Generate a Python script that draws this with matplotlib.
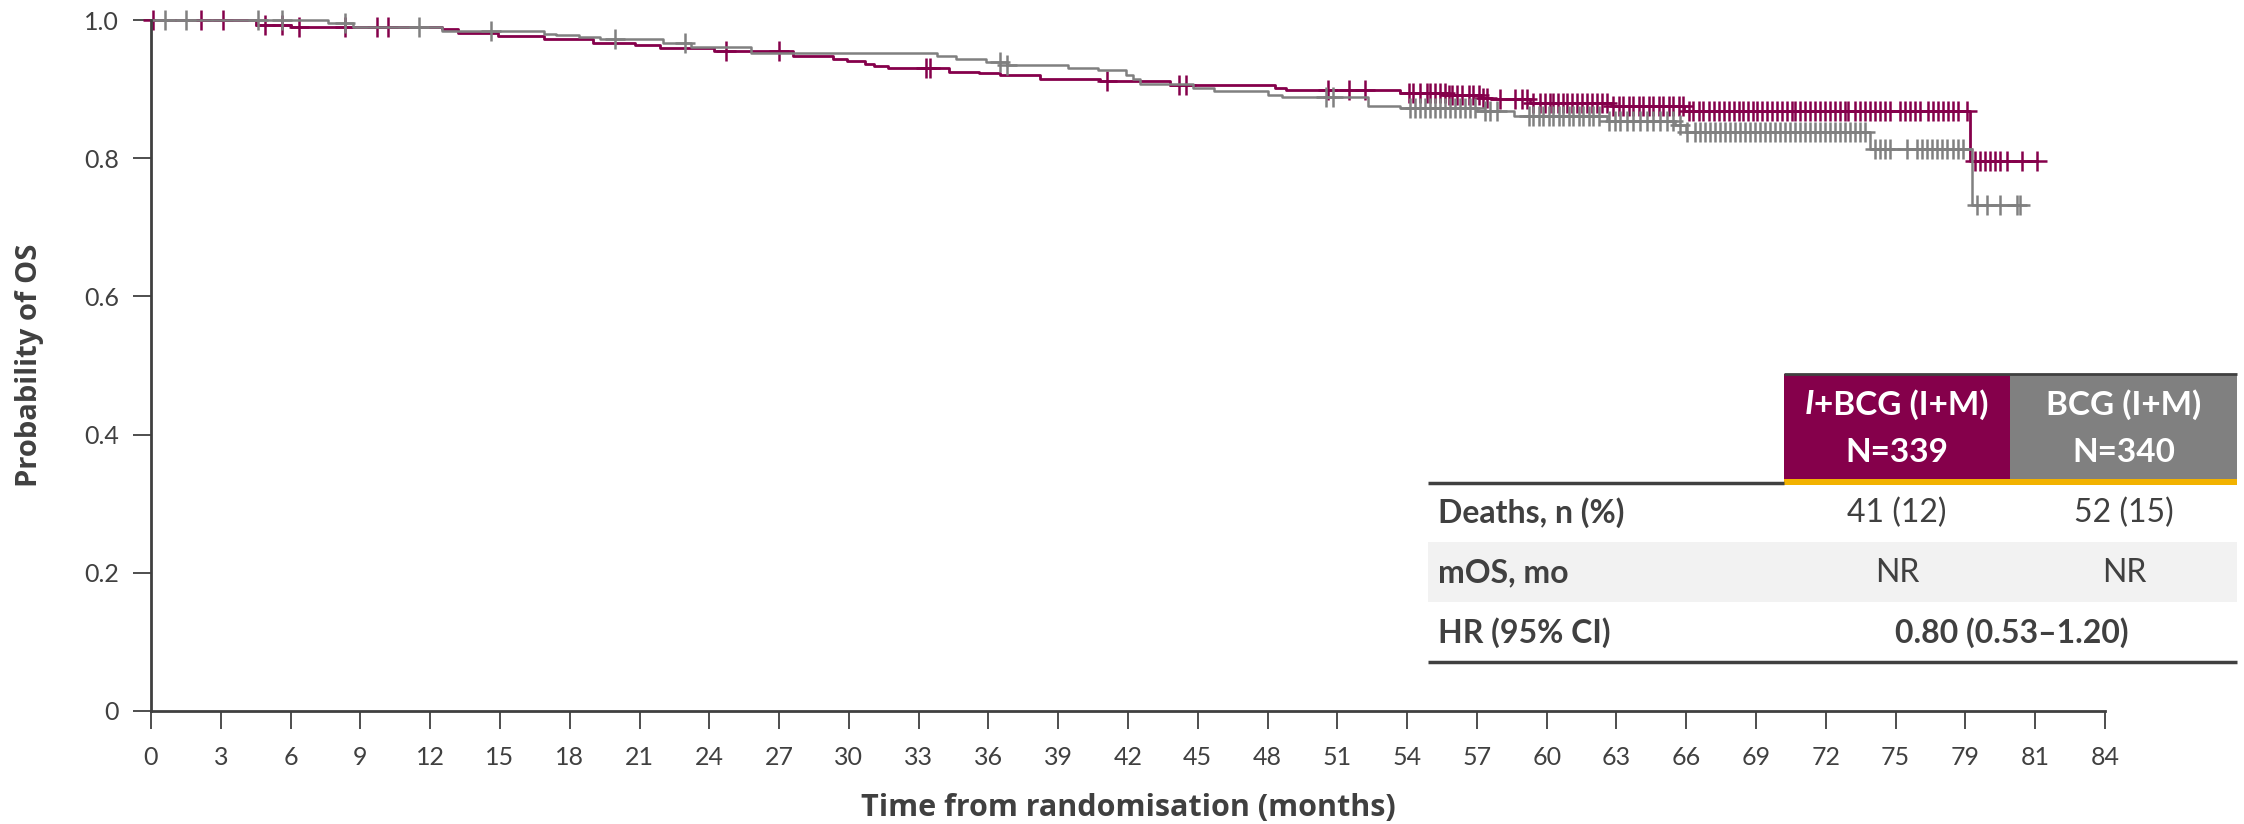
import numpy as np
import matplotlib.pyplot as plt
from matplotlib.patches import Rectangle
from matplotlib.lines import Line2D

plt.rcParams['font.family'] = ['Lato', 'DejaVu Sans']

MAROON = '#85004B'
GREY = '#808080'
TXT = '#404040'

# I+BCG (I+M): step changes (months, survival)
ib_t = [0, 4.5, 6.0, 12.5, 13.2, 14.9, 16.9, 19.0, 20.8, 21.9, 24.2, 27.6, 29.3, 29.9, 30.7,
        31.1, 31.7, 34.3, 35.6, 36.5, 38.2, 40.8, 43.8, 48.3, 48.8, 53.7, 55.7, 57.2, 57.6,
        59.3, 62.8, 65.9, 78.2]
ib_s = [1.0, 0.993, 0.990, 0.987, 0.981, 0.977, 0.973, 0.966, 0.964, 0.959, 0.955, 0.948, 0.943,
        0.940, 0.937, 0.933, 0.930, 0.925, 0.923, 0.920, 0.915, 0.912, 0.906, 0.901, 0.898,
        0.894, 0.891, 0.887, 0.885, 0.880, 0.875, 0.869, 0.796]
ib_end = 81.06
ib_cens = [0.1, 2.15, 3.1, 4.9, 5.65, 6.35, 8.35, 9.7, 10.2, 24.7, 27.0, 33.3, 33.5, 41.1,
           44.2, 44.5, 50.6, 51.5, 52.2,
           54.06, 54.27, 54.56, 54.85, 54.99, 55.2, 55.42, 55.63, 55.78, 55.92, 56.14, 56.35,
           56.64, 56.85, 57.07, 57.28, 57.43, 58.0, 58.64, 58.93, 59.15, 59.43, 59.72, 59.93,
           60.15, 60.29, 60.5, 60.72, 60.86, 61.08, 61.3, 61.51, 61.73, 61.94, 62.16, 62.37,
           62.59, 62.87, 63.09, 63.3, 63.52, 63.73, 63.95, 64.16, 64.38, 64.59, 64.81, 65.02,
           65.24, 65.45, 65.67, 65.88, 66.1, 66.31, 66.53, 66.74, 66.96, 67.17, 67.39, 67.6,
           67.82, 68.03, 68.25, 68.45, 68.67, 68.88, 69.03, 69.24, 69.46, 69.67, 69.89, 70.1,
           70.32, 70.53, 70.67, 70.89, 71.1, 71.32, 71.53, 71.75, 71.96, 72.18, 72.39, 72.61,
           72.82, 72.97, 73.25, 73.47, 73.68, 73.9, 74.11, 74.33, 74.54, 74.76, 75.19, 75.4,
           75.62, 75.83, 76.05, 76.41, 76.62, 76.84, 77.05, 77.27, 77.48, 77.7, 78.05,
           78.41, 78.63, 78.84, 79.06, 79.27, 79.49, 79.77, 80.42, 81.06]

# BCG (I+M)
bcg_t = [0, 7.6, 8.7, 12.5, 16.9, 17.4, 18.4, 19.3, 22.0, 23.2, 25.8, 33.8, 34.6, 35.9, 36.8,
         39.4, 40.7, 41.9, 42.2, 42.5, 44.8, 45.7, 48.0, 48.6, 52.3, 53.7, 57.0, 58.6, 62.6,
         65.5, 66.0, 73.9, 78.3]
bcg_s = [1.0, 0.996, 0.990, 0.984, 0.980, 0.978, 0.976, 0.972, 0.966, 0.961, 0.952, 0.948, 0.944,
         0.939, 0.935, 0.930, 0.928, 0.920, 0.914, 0.908, 0.902, 0.897, 0.892, 0.889, 0.876,
         0.872, 0.869, 0.861, 0.854, 0.848, 0.838, 0.814, 0.732]
bcg_end = 80.35
bcg_cens = [0.6, 1.5, 4.6, 5.65, 8.35, 11.5, 14.6, 19.95, 22.96, 36.5, 36.8, 50.5, 50.8,
            54.13, 54.34, 54.56, 54.77, 54.99, 55.2, 55.42, 55.63, 55.85, 56.06, 56.28, 56.49,
            56.71, 56.92, 57.35, 57.57, 57.86, 59.22, 59.43, 59.65, 59.86, 60.08, 60.29, 60.51,
            60.72, 60.94, 61.15, 61.37, 61.58, 61.8, 62.01, 62.23, 62.66, 62.94, 63.16, 63.44,
            63.73, 64.02, 64.3, 64.59, 64.88, 65.16, 65.45, 65.74, 66.02, 66.38, 66.6, 66.81,
            67.03, 67.24, 67.46, 67.67, 67.89, 68.1, 68.31, 68.52, 68.74, 68.95, 69.17, 69.38,
            69.6, 69.81, 70.03, 70.24, 70.46, 70.67, 70.89, 71.1, 71.32, 71.53, 71.75, 71.96,
            72.18, 72.39, 72.61, 72.82, 73.04, 73.25, 73.47, 73.68, 74.11, 74.33, 74.54, 74.76,
            75.48, 75.91, 76.12, 76.34, 76.55, 76.77, 76.98, 77.2, 77.48, 77.7, 77.91,
            78.48, 78.91, 79.49, 80.2, 80.35]

x_ticks = list(range(0, 85, 3))
x_labels = [str(v) for v in x_ticks]
x_labels[x_ticks.index(78)] = '79'  # as printed on the original
y_ticks = [0, 0.2, 0.4, 0.6, 0.8, 1.0]
y_labels = ['0', '0.2', '0.4', '0.6', '0.8', '1.0']

# table
row_labels = ['Deaths, n (%)', 'mOS, mo', 'HR (95% CI)']
ib_vals = ['41 (12)', 'NR']
bcg_vals = ['52 (15)', 'NR']
hr_text = '0.80 (0.53\u20131.20)'

W, H = 2244, 824
fig = plt.figure(figsize=(W / 100, H / 100), dpi=100)
ax = fig.add_axes([151 / W, 1 - 711 / H, (2105 - 151) / W, (711 - 20) / H])


def km(ax, t, s, end, cens, color, lw):
    tt = list(t) + [end]
    ss = list(s) + [s[-1]]
    ax.step(tt, ss, where='post', color=color, lw=lw, clip_on=False)
    idx = np.searchsorted(t, cens, side='right') - 1
    ax.plot(cens, np.array(s)[idx], ls='none', marker='+', ms=15, mew=1.8,
            color=color, clip_on=False)


km(ax, ib_t, ib_s, ib_end, ib_cens, MAROON, 2.0)
km(ax, bcg_t, bcg_s, bcg_end, bcg_cens, GREY, 1.8)

ax.set_xlim(0, 84)
ax.set_ylim(0, 1.0)
ax.set_xticks(x_ticks)
ax.set_xticklabels(x_labels)
ax.set_yticks(y_ticks)
ax.set_yticklabels(y_labels)
for sp in ['top', 'right']:
    ax.spines[sp].set_visible(False)
for sp in ['left', 'bottom']:
    ax.spines[sp].set_color(TXT)
    ax.spines[sp].set_linewidth(2)
ax.tick_params(axis='both', direction='out', length=13, width=1.3, color=TXT,
               labelcolor=TXT, labelsize=18)
ax.tick_params(axis='x', pad=12)
ax.tick_params(axis='y', pad=10)

ax.set_xlabel('Time from randomisation (months)', fontsize=22, fontweight='bold',
              color=TXT, family=['Open Sans', 'DejaVu Sans'])
ax.set_ylabel('Probability of OS', fontsize=21, fontweight='bold', color=TXT,
              family=['Open Sans', 'DejaVu Sans'])
ax.xaxis.set_label_coords(0.5, -0.118)
ax.yaxis.set_label_coords(-0.055, 0.5)

# ---- table drawn in pixel coordinates of the figure
def fx(px):
    return px / W


def fy(py):
    return 1 - py / H


def rect(x0, y0, x1, y1, color):
    fig.add_artist(Rectangle((fx(x0), fy(y1)), fx(x1) - fx(x0), fy(y0) - fy(y1),
                             transform=fig.transFigure, color=color, lw=0))


def hline(x0, x1, y, color, lw):
    fig.add_artist(Line2D([fx(x0), fx(x1)], [fy(y), fy(y)], transform=fig.transFigure,
                          color=color, lw=lw, solid_capstyle='butt'))


rect(1784, 374, 2010, 479, MAROON)
rect(2010, 374, 2237, 479, GREY)
rect(1784, 479, 2237, 485, '#F2B200')
hline(1784, 2237, 374, TXT, 2)
hline(1428, 1784, 483, TXT, 2.5)
rect(1428, 542, 2237, 602, '#F2F2F2')
hline(1428, 2237, 662, TXT, 2.5)

c1, c2 = 1897, 2124
fs = 23
hfs = 24

# header of the I+BCG column, first letter in italics
t_i = fig.text(0, fy(405), 'I', fontsize=hfs, fontweight='bold', style='italic',
               color='white', ha='left', va='center')
t_r = fig.text(0, fy(405), '+BCG (I+M)', fontsize=hfs, fontweight='bold',
               color='white', ha='left', va='center')
fig.canvas.draw()
rend = fig.canvas.get_renderer()
w_i = t_i.get_window_extent(rend).width
w_r = t_r.get_window_extent(rend).width
left = c1 - (w_i + w_r) / 2
t_i.set_x(fx(left))
t_r.set_x(fx(left + w_i))

fig.text(fx(c1), fy(452), 'N=339', fontsize=hfs, fontweight='bold', color='white',
         ha='center', va='center')
fig.text(fx(c2), fy(405), 'BCG (I+M)', fontsize=hfs, fontweight='bold', color='white',
         ha='center', va='center')
fig.text(fx(c2), fy(452), 'N=340', fontsize=hfs, fontweight='bold', color='white',
         ha='center', va='center')

row_y = [513, 573, 633]
for lab, y in zip(row_labels, row_y):
    fig.text(fx(1438), fy(y), lab, fontsize=fs, fontweight='bold', color=TXT,
             ha='left', va='center')
for v1, v2, y in zip(ib_vals, bcg_vals, row_y[:2]):
    fig.text(fx(c1), fy(y), v1, fontsize=fs, color=TXT, ha='center', va='center')
    fig.text(fx(c2), fy(y), v2, fontsize=fs, color=TXT, ha='center', va='center')
fig.text(fx(2012), fy(row_y[2]), hr_text, fontsize=fs, fontweight='bold', color=TXT,
         ha='center', va='center')

fig.savefig('out.png', dpi=100)
